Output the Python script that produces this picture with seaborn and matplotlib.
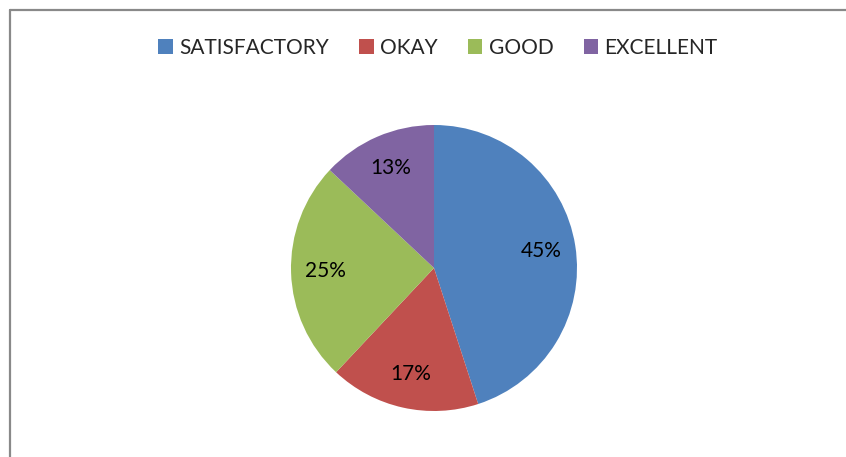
import matplotlib
matplotlib.use("Agg")
import matplotlib.pyplot as plt
from matplotlib.patches import Patch
from matplotlib.lines import Line2D
import seaborn as sns

categories = ["SATISFACTORY", "OKAY", "GOOD", "EXCELLENT"]
values = [45, 17, 25, 13]
colors = ["#4F81BD", "#C0504D", "#9BBB59", "#8064A2"]

sns.set_theme(style="white")
plt.rcParams['font.family'] = ['Lato', 'DejaVu Sans']

W, H = 846, 457
fig = plt.figure(figsize=(W / 100, H / 100), dpi=100)
fig.patch.set_facecolor("white")

cx, cy, r = 434, 457 - 268, 143
ax = fig.add_axes([(cx - r) / W, (cy - r) / H, 2 * r / W, 2 * r / H])
palette = sns.color_palette(colors)
wedges, texts, autotexts = ax.pie(
    values, colors=palette, startangle=90, counterclock=False,
    autopct=lambda p: f"{p:.0f}%", pctdistance=0.76,
    wedgeprops=dict(linewidth=0), textprops=dict(fontsize=15, color="black"))
ax.set_xlim(-1, 1)
ax.set_ylim(-1, 1)
ax.set_aspect("equal")
ax.axis("off")

handles = [Patch(facecolor=c, edgecolor="none") for c in palette]
fig.legend(handles, categories, loc="center", bbox_to_anchor=(438 / W, 1 - 48 / H),
           ncol=4, frameon=False, fontsize=15, handlelength=0.7, handleheight=0.7,
           handletextpad=0.3, columnspacing=1.45, borderaxespad=0)

# chart border (left and top edges visible)
border = dict(color="#898989", linewidth=1.6, transform=fig.transFigure)
fig.add_artist(Line2D([9.5 / W, 9.5 / W], [0, 1 - 9.5 / H], **border))
fig.add_artist(Line2D([9.5 / W, 1], [1 - 9.5 / H, 1 - 9.5 / H], **border))

fig.savefig("out.png", dpi=100, facecolor="white")
